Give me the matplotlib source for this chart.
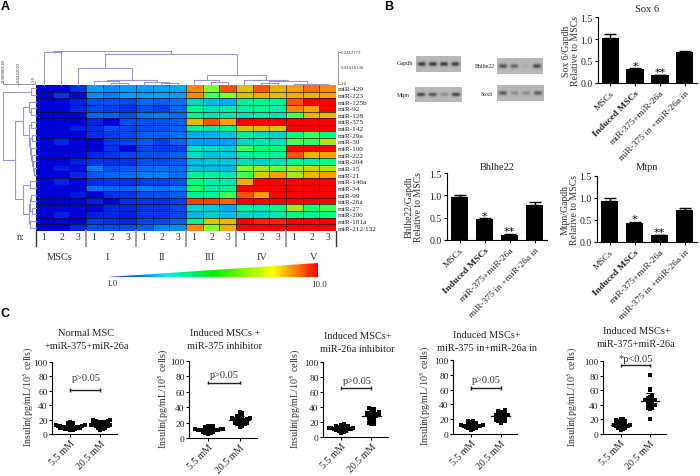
import numpy as np
import matplotlib
matplotlib.use("Agg")
import matplotlib.pyplot as plt
from matplotlib.colors import LinearSegmentedColormap
from matplotlib.patches import Polygon

plt.rcParams['font.family'] = ['Liberation Serif', 'DejaVu Serif']
plt.rcParams['mathtext.fontset'] = 'stix'

W, H = 700, 477

# heatmap
mirnas = ['miR-429', 'miR-223', 'miR-125b', 'miR-92', 'miR-128', 'miR-375', 'miR-142', 'miR-29a',
          'miR-30', 'miR-100', 'miR-222', 'miR-204', 'miR-15', 'miR-21', 'miR-146a', 'miR-34',
          'miR-99', 'miR-26a', 'miR-27', 'miR-200', 'miR-181a', 'miR-212/132']
heat_values = [
    [1.0, 1.0, 1.6, 3.0, 2.8, 3.0, 3.0, 3.0, 3.2, 8.3, 6.0, 9.0, 7.3, 9.0, 7.6, 8.0, 8.6, 8.3],
    [1.0, 1.7, 1.1, 2.8, 2.6, 3.0, 3.0, 3.0, 3.0, 8.3, 5.5, 6.0, 7.3, 7.8, 7.3, 7.8, 7.6, 8.0],
    [1.0, 1.0, 1.4, 2.0, 2.0, 1.9, 2.3, 2.2, 2.4, 3.9, 3.5, 3.2, 4.5, 4.8, 4.5, 9.0, 10, 10],
    [1.0, 1.0, 1.5, 1.9, 1.8, 1.7, 2.0, 1.8, 2.3, 4.7, 4.0, 4.4, 4.4, 4.7, 4.4, 8.3, 8.0, 10],
    [1.0, 1.0, 1.0, 2.3, 2.2, 2.0, 2.5, 2.6, 2.4, 4.5, 4.2, 4.2, 4.2, 4.5, 4.2, 5.6, 7.6, 7.5],
    [1.0, 1.0, 1.0, 1.5, 1.0, 2.0, 2.0, 2.0, 2.2, 7.5, 9.0, 8.0, 10, 10, 10, 10, 10, 10],
    [1.0, 1.0, 1.4, 1.6, 2.0, 1.9, 2.0, 2.0, 2.2, 4.6, 4.2, 4.7, 7.2, 7.4, 7.2, 10, 10, 10],
    [1.0, 1.0, 1.0, 1.6, 1.8, 1.9, 2.2, 2.2, 2.4, 3.2, 3.2, 3.6, 4.7, 4.0, 3.8, 5.0, 5.5, 5.0],
    [1.0, 1.5, 1.0, 1.0, 1.7, 1.9, 2.1, 1.8, 2.2, 3.0, 2.9, 3.0, 3.9, 4.2, 4.0, 5.6, 5.4, 6.6],
    [1.0, 1.0, 1.0, 1.0, 1.7, 1.0, 1.9, 1.8, 1.8, 4.0, 3.9, 3.7, 5.5, 5.0, 5.0, 10, 10, 10],
    [1.0, 1.0, 1.1, 1.5, 1.7, 1.9, 2.0, 2.0, 2.2, 4.0, 3.5, 3.6, 4.5, 4.8, 4.6, 9.0, 7.6, 8.0],
    [1.0, 1.0, 1.4, 1.7, 1.6, 1.6, 2.0, 1.9, 2.1, 3.4, 3.6, 3.6, 4.0, 3.8, 4.0, 4.7, 4.4, 5.0],
    [1.0, 1.4, 1.2, 2.6, 2.0, 2.2, 2.4, 2.4, 2.4, 3.5, 3.4, 3.4, 6.0, 6.5, 5.8, 6.6, 7.0, 6.6],
    [1.0, 1.0, 1.5, 2.1, 2.3, 2.4, 2.6, 2.6, 2.4, 4.6, 4.6, 4.2, 5.5, 7.0, 8.0, 6.5, 7.5, 8.0],
    [1.0, 1.5, 1.0, 1.6, 1.7, 1.6, 1.8, 1.8, 2.0, 5.0, 4.4, 4.2, 7.8, 10, 10, 10, 10, 10],
    [1.0, 1.0, 1.0, 2.4, 2.3, 2.2, 2.6, 2.4, 2.6, 5.2, 4.4, 4.6, 10, 10, 10, 10, 10, 10],
    [1.0, 1.0, 1.3, 1.0, 1.6, 1.7, 2.0, 2.0, 2.2, 4.6, 4.6, 5.5, 9.0, 8.0, 10, 10, 10, 10],
    [1.0, 1.0, 1.0, 1.4, 1.0, 1.6, 1.7, 1.6, 1.8, 9.2, 9.2, 8.8, 10, 10, 10, 10, 10, 10],
    [1.0, 1.0, 1.0, 1.0, 1.5, 1.5, 1.7, 1.7, 1.9, 3.8, 3.7, 3.2, 4.5, 4.3, 4.7, 6.6, 5.2, 5.5],
    [1.0, 1.4, 1.0, 1.4, 1.5, 1.4, 1.7, 1.7, 1.9, 3.4, 3.7, 3.5, 3.8, 3.9, 4.2, 5.0, 4.6, 5.0],
    [1.0, 1.0, 1.0, 1.8, 1.6, 1.5, 1.9, 1.9, 2.2, 4.7, 7.2, 7.4, 10, 9.6, 9.6, 10, 10, 10],
    [1.0, 1.0, 1.5, 2.0, 2.0, 2.0, 2.2, 2.7, 2.8, 8.3, 6.0, 7.7, 10, 10, 10, 10, 10, 10],
]
groups = ['MSCs', 'I', 'II', 'III', 'IV', 'V']

# dendrograms: (height, left child, right child), a leaf is a column or row number
col_tree = (34, (33, 0, 1),
            (31, (17, 2, (5.5, (4, 3, (2, 4, 5)), (3.5, 6, (2, 7, 8)))),
             (10, (5, 9, (3, 10, 11)),
              (5, 12, (4, (2, 13, 14), (1.5, 15, (1, 16, 17)))))))
row_upper = (13, (7, 2, (5, 3, 4)),
             (7.5, (5, 5, 6), (6.5, (4, 7, 8), (5.5, 9, (4, 10, (3, 11, (2, 12, 13)))))))
row_lower = (13, (6, 14, 15), (7.5, (6, (5, 16, 17), (4, 18, 19)), (6, 20, 21)))
row_tree = (33, (5, 0, 1), (21, row_upper, row_lower))

# western blots: band strength of the four lanes
blot_names = ['Gapdh', 'Bhlhe22', 'Mtpn', 'Sox6']
blot_bands = [[0.85, 0.85, 0.85, 0.8], [0.7, 0.55, 0.08, 0.75], [0.75, 0.65, 0.25, 0.75], [0.65, 0.3, 0.3, 0.6]]

# bar charts
bar_labels = ['MSCs', 'Induced MSCs', 'miR-375+miR-26a', 'miR-375 in +miR-26a in']
sox6_vals, sox6_err = [1.03, 0.32, 0.18, 0.71], [0.08, 0.02, 0.01, 0.02]
bhlhe22_vals, bhlhe22_err = [0.97, 0.46, 0.12, 0.79], [0.03, 0.03, 0.02, 0.07]
mtpn_vals, mtpn_err = [0.93, 0.44, 0.16, 0.72], [0.07, 0.02, 0.01, 0.05]
bar_stars = ['', '*', '**', '']

# insulin scatter plots
dose_labels = ['5.5 mM', '20.5 mM']
p1_low = [5, 6, 6, 7, 7, 7, 8, 8, 8, 8, 9, 9, 9, 9, 10, 10, 10, 10, 11, 11, 11, 12, 12, 13, 15, 15, 17]
p1_high = [6, 7, 8, 8, 9, 9, 10, 10, 11, 11, 12, 12, 12, 13, 13, 14, 14, 14, 15, 15, 16, 16, 17, 17, 18, 18, 19, 19]
p2_low = [5, 6, 7, 7, 8, 8, 9, 9, 9, 10, 10, 10, 11, 11, 11, 12, 12, 12, 13, 13, 14, 15, 16, 16]
p2_high = [14, 15, 16, 17, 18, 18, 19, 19, 20, 20, 21, 21, 22, 22, 23, 23, 24, 24, 25, 25, 26, 26, 27, 28, 29, 33, 33, 34]
p3_low = [6, 7, 8, 8, 9, 9, 10, 10, 10, 11, 11, 11, 12, 12, 12, 13, 13, 14, 14, 15, 15, 16, 18]
p3_high = [17, 18, 19, 20, 22, 24, 25, 26, 27, 27, 28, 28, 29, 29, 30, 30, 31, 31, 32, 33, 34, 35, 37, 38, 39]
p4_low = [5, 6, 7, 8, 8, 9, 9, 10, 10, 10, 11, 11, 11, 12, 12, 13, 13, 14, 15, 16, 17, 18]
p4_high = [15, 16, 17, 18, 18, 19, 20, 20, 21, 22, 22, 23, 24, 25, 25, 26, 26, 27, 28, 28, 29, 30, 30, 31, 32]
p5_low = [5, 6, 7, 8, 8, 9, 9, 10, 10, 11, 11, 12, 12, 13, 13, 14, 14, 15, 16, 17, 18, 18, 19, 20, 20]
p5_high = [21, 34, 35, 36, 38, 38, 40, 40, 41, 42, 43, 44, 45, 45, 46, 47, 48, 49, 50, 51, 53, 60, 62, 81]


def ax_px(left, top, right, bottom):
    # axes placed with pixel coordinates, origin on top left like the picture
    return fig.add_axes([left / W, 1 - bottom / H, (right - left) / W, (bottom - top) / H])


def draw_tree(node, pos, link):
    # returns position of the node and its height, link draws the bracket
    if not isinstance(node, tuple):
        return pos(node), 0
    a, ha = draw_tree(node[1], pos, link)
    b, hb = draw_tree(node[2], pos, link)
    link(a, ha, b, hb, node[0])
    return (a + b) / 2, node[0]


def bar_panel(box, vals, errs, title, ylab, ylab_x, title_y):
    ax = ax_px(*box)
    ax.bar(range(4), vals, width=0.7, color='black', yerr=[[0] * 4, errs],
           error_kw=dict(ecolor='black', lw=1, capsize=4, capthick=1))
    ax.set_xlim(-0.5, 3.5)
    ax.set_ylim(0, 1.5)
    ax.set_yticks([0, 0.5, 1.0, 1.5])
    ax.set_yticklabels(['0.0', '0.5', '1.0', '1.5'], fontsize=7, color='#222222')
    ax.set_xticks(range(4))
    ax.set_xticklabels(bar_labels, rotation=45, ha='right', rotation_mode='anchor', fontsize=6.8, color='#222222')
    ax.get_xticklabels()[1].set_fontweight('bold')
    ax.tick_params(length=2.5, width=0.8, pad=1.5)
    for s in ['top', 'right']:
        ax.spines[s].set_visible(False)
    for i, star in enumerate(bar_stars):
        if star:
            ax.text(i, vals[i] + errs[i] - 0.06, star, ha='center', va='bottom', fontsize=8, family='DejaVu Sans')
    over.text((box[0] + box[2]) / 2, title_y, title, ha='center', va='center', fontsize=7.5, color='#222222')
    over.text(ylab_x, (box[1] + box[3]) / 2, ylab, rotation=90, ha='center', va='center', fontsize=7, color='#333333',
              linespacing=1.05)
    return ax


def swarm(values, center, step=0.08):
    # GraphPad like layout: values of a bin spread sideways around the centre
    xs = []
    bins = {}
    for v in values:
        b = round(v / 3.5)
        k = bins.get(b, 0)
        bins[b] = k + 1
        side = 1 if k % 2 else -1
        xs.append(center + side * ((k + 1) // 2) * step)
    return xs


def scatter_panel(box, low, high, title, p_text, bracket, text_val, ylab_x, title_y, bracket_x):
    ax = ax_px(*box)
    for i, vals in enumerate([low, high]):
        ax.scatter(swarm(vals, i), vals, s=5, color='black', marker='s', linewidths=0, zorder=3)
        m = np.mean(vals)
        s = np.std(vals)
        ax.plot([i - 0.32, i + 0.32], [m, m], color='black', lw=0.9, zorder=4)
        ax.errorbar([i], [m], yerr=[s], color='black', lw=0.8, capsize=3, capthick=0.8, zorder=4)
    ax.set_xlim(-0.6, 1.55)
    ax.set_ylim(0, 100)
    ax.set_yticks([0, 20, 40, 60, 80, 100])
    ax.set_yticklabels(['0', '20', '40', '60', '80', '100'], fontsize=6.8, color='#222222')
    ax.set_xticks([0, 1])
    ax.set_xticklabels(dose_labels, rotation=45, ha='right', rotation_mode='anchor', fontsize=7.2, color='#222222')
    ax.tick_params(length=2, width=0.8, pad=1)
    for s in ['top', 'right']:
        ax.spines[s].set_visible(False)
    ax.errorbar(bracket_x, [bracket, bracket], color='#222222', lw=1, yerr=2.5, elinewidth=1)
    ax.text(sum(bracket_x) / 2 + 0.02, text_val, p_text, ha='center', va='center', fontsize=7.5, color='#333333')
    t1, t2 = title
    over.text((box[0] + box[2]) / 2 + 2, title_y, t1, ha='center', va='center', fontsize=7.5, color='#222222')
    over.text((box[0] + box[2]) / 2 + 2, title_y + 12.5, t2, ha='center', va='center', fontsize=7.5, color='#222222')
    over.text(ylab_x, (box[1] + box[3]) / 2 - 2, 'Insulin(pg/mL/10$^5$ cells)', rotation=90, ha='center', va='center',
              fontsize=7.2, color='#333333')
    return ax


fig = plt.figure(figsize=(7, 4.77), dpi=100)

# overlay in pixel coordinates for the notes, dendrograms and labels
over = fig.add_axes([0, 0, 1, 1], zorder=5)
over.set_xlim(0, W)
over.set_ylim(H, 0)
over.axis('off')

for letter, x, y in [('A', 5, 7), ('B', 389, 7), ('C', 5, 314)]:
    over.text(x, y, letter, fontsize=9, fontweight='bold', family='Liberation Sans', ha='center', va='center')

# heat map
heat_cmap = LinearSegmentedColormap.from_list('heat', [
    (0.0, '#0000d8'), (1 / 9, '#0050f0'), (2 / 9, '#00a0ff'), (3 / 9, '#00e0c0'), (4 / 9, '#00ff80'),
    (5 / 9, '#80ff30'), (6 / 9, '#d0d000'), (7 / 9, '#ffa000'), (8 / 9, '#ff5000'), (1.0, '#ff0000')])
hx0, hx1, hy0, hy1 = 36, 336, 86, 232
ax_heat = ax_px(hx0, hy0, hx1, hy1)
ax_heat.pcolormesh(np.array(heat_values), cmap=heat_cmap, vmin=1, vmax=10)
# grid on top, one pixel wide
ax_heat.hlines(range(1, len(mirnas)), 0, 18, color='#101010', lw=0.6, alpha=0.8)
ax_heat.vlines(range(1, 18), 0, len(mirnas), color='#101010', lw=0.6, alpha=0.8)
ax_heat.set_ylim(len(mirnas), 0)
ax_heat.set_xlim(0, 18)
ax_heat.set_xticks([])
ax_heat.yaxis.tick_right()
ax_heat.set_yticks(np.arange(len(mirnas)) + 0.5)
ax_heat.set_yticklabels(mirnas, fontsize=5.2, color='#222222')
ax_heat.tick_params(length=0, pad=1.5)
for s in ax_heat.spines.values():
    s.set_visible(False)

cw = (hx1 - hx0) / 18
rh = (hy1 - hy0) / 22
tree_color = '#9a98cf'


def col_link(a, ha, b, hb, h):
    over.plot([a, a, b, b], [hy0 - ha, hy0 - h, hy0 - h, hy0 - hb], color=tree_color, lw=0.8)


def row_link(a, ha, b, hb, h):
    over.plot([hx0 - ha, hx0 - h, hx0 - h, hx0 - hb], [a, a, b, b], color=tree_color, lw=0.8)


draw_tree(col_tree, lambda i: hx0 + (i + 0.5) * cw, col_link)
draw_tree(row_tree, lambda i: hy0 + (i + 0.5) * rh, row_link)

# little scale brackets of the dendrograms
over.plot([3, 3, 35, 35], [82, 84.5, 84.5, 82], color='#888888', lw=0.6)
over.plot([18], [84.5], marker='|', ms=2, color='#888888')
for x, lab in [(4, '0.08888138'), (19, '0.0422022'), (34, '1.0')]:
    over.text(x, 82, lab, rotation=90, fontsize=3.2, ha='center', va='bottom', family='Liberation Sans', color='#444444')
over.plot([340, 338, 338, 340], [53, 53, 84.5, 84.5], color='#888888', lw=0.6)
for y, lab in [(53.5, '0.0312773'), (68, '0.41618136'), (84, '1.0')]:
    over.text(341, y, lab, fontsize=3.2, ha='left', va='center', family='Liberation Sans', color='#444444')

# group separators and replicate numbers under the heat map
for g in range(7):
    x = hx0 + g * 3 * cw
    over.plot([x, x], [hy1, hy1 + 15], color='#333333' if g in (0, 6) else '#a0a0a0', lw=1 if g in (0, 6) else 1.4)
for g in range(6):
    for off, lab in zip([7.5, 26.3, 41.5], ['1', '2', '3']):
        over.text(hx0 + g * 3 * cw + off, 237.5, lab, fontsize=7, ha='center', va='center', color='#333333')
over.text(21, 238, 'n:', fontsize=7.5, ha='center', va='center', color='#333333')
for name, x in zip(groups, [60, 107, 162, 210, 262, 314]):
    over.text(x, 258, name, fontsize=7.5, ha='center', va='center', color='#333333')

# gradient wedge
grad = np.linspace(0, 1, 256).reshape(1, -1)
wedge_cmap = LinearSegmentedColormap.from_list('wedge', [
    (0.0, '#0000c0'), (0.16, '#0080ff'), (0.28, '#00f0f0'), (0.5, '#00f000'), (0.785, '#ffff00'), (1.0, '#ff0000')])
im = over.imshow(grad, extent=[108, 318, 278, 264], aspect='auto', cmap=wedge_cmap, zorder=2)
over.set_xlim(0, W)
over.set_ylim(H, 0)
im.set_clip_path(Polygon([[108, 278], [318, 264], [318, 278]], transform=over.transData))
over.text(112, 284, '1.0', fontsize=6.5, ha='center', va='center', color='#333333')
over.text(319, 285, '10.0', fontsize=6.5, ha='center', va='center', color='#333333')

# western blots
blot_boxes = [(416, 57, 461, 73), (497, 59, 543, 75), (415, 88, 462, 103), (497, 86, 544, 102)]
blot_label_xy = [(405, 64), (485, 66), (403, 95), (487, 94)]
for name, bands, box, lxy in zip(blot_names, blot_bands, blot_boxes, blot_label_xy):
    yy, xx = np.mgrid[0:1:40j, 0:1:90j]
    img = np.full(yy.shape, 0.72)
    for i, b in enumerate(bands):
        cx = (i + 0.5) / 4
        img -= 0.6 * b * np.exp(-((xx - cx) / 0.09) ** 4 - ((yy - 0.5) / 0.13) ** 2)
    over.imshow(img, extent=[box[0], box[2], box[3], box[1]], aspect='auto', cmap='gray', vmin=0, vmax=1,
                interpolation='bilinear', zorder=2)
    over.set_xlim(0, W)
    over.set_ylim(H, 0)
    over.text(lxy[0], lxy[1], name, fontsize=4.3, ha='center', va='center', color='#222222')

# panel B bars
bar_panel((598, 18, 697, 84), sox6_vals, sox6_err, 'Sox 6', 'Sox 6/Gapdh\nRelative to MSCs', 571, 10)
bar_panel((447, 174, 547, 241), bhlhe22_vals, bhlhe22_err, 'Bhlhe22', 'Bhlhe22/Gapdh\nRelative to MSCs', 413.5, 168)
bar_panel((597, 177, 697, 243), mtpn_vals, mtpn_err, 'Mtpn', 'Mtpn/Gapdh\nRelative to MSCs', 570, 168)

# panel C scatter
scatter_panel((52, 363, 117, 435), p1_low, p1_high, ('Normal MSC', '+miR-375+miR-26a'), 'p>0.05', 61, 78, 28, 334, (0, 1))
scatter_panel((189, 362, 257, 439), p2_low, p2_high, ('Induced MSCs +', 'miR-375 inhibitor'), 'p>0.05', 72, 83, 163, 334, (0, 1))
scatter_panel((323, 363, 388, 438), p3_low, p3_high, ('Induced MSCs+', 'miR-26a inhibitor'), 'p>0.05', 65, 75, 295, 337, (0, 1))
scatter_panel((453, 361, 517, 435), p4_low, p4_high, ('Induced MSCs+', 'miR-375 in+miR-26a in'), 'p>0.05', 62, 73, 425, 336, (0, 1))
scatter_panel((603, 362, 666, 435), p5_low, p5_high, ('Induced MSCs+', 'miR-375+miR-26a'), '*p<0.05', 94, 104, 572, 332, (0, 1))

fig.savefig('out.png', dpi=100)
